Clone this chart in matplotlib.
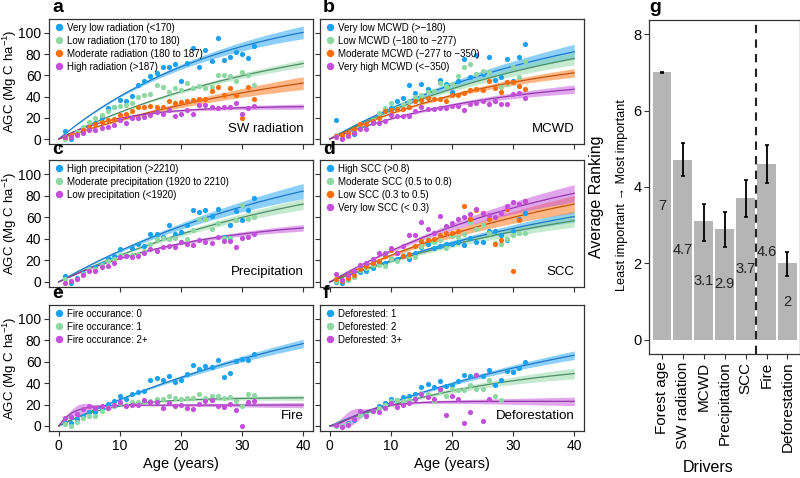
import numpy as np
import matplotlib
matplotlib.use("Agg")
import matplotlib.pyplot as plt
from matplotlib.lines import Line2D

plt.rcParams['font.family'] = ['Liberation Sans', 'DejaVu Sans']
plt.rcParams['mathtext.fontset'] = 'custom'
plt.rcParams['mathtext.rm'] = 'Liberation Sans'
plt.rcParams['mathtext.it'] = 'Liberation Sans:italic'
plt.rcParams['mathtext.bf'] = 'Liberation Sans:bold'

# ---- data (AGC per stand age) ----
age = np.arange(1, 33)
nan = np.nan

# a: SW radiation
a_vlow = [7.9, 0, 4.7, 7.5, 11, 15, 20, 29, 30, 37, 36, 40.5, 51, 55, 59, 62.6,
          68, 68, 71, 55, 72, 86, 68, 84, 73, 95, 74, 77, 82, 80, 76, 88]
a_low = [0, 3, 7, 11, 16, 19.5, 22.6, 26, 30.5, 31, 32, 34, 39.6, 41, 42, 51,
         49, 44, 48, 46, 53, 48, 50, 48, 49, 60, 60, 59, 55, 63.5, 60, 51]
a_mod = [2, 4, 5, 8.5, 11.6, 14, 16, 18, 18.5, 22.6, 23.6, 26, 30, 30.5, 31, 30.5,
         30, 36, 34, 35, 36, 37, 38, 38, 45.6, 49, 41.5, 48, 41.5, 20, 49, 37.7]
a_high = [1.5, 2, 3.8, 6, 8.5, 8.5, 10, 11.6, 13, 18, 15.4, 19.5, 19.5, 21, 22.6, 25,
          23.6, 27, 21.7, 24, 27, 24, 32, 32, 30, 29, 30, 30, 33.6, 23.6, 29, 31]

# b: MCWD
b_vlow = [18.3, 1, 4, 5, 10, 13, 16, 21.5, 27, 29, 36, 39, 50.5, 43, 52, 47,
          45, 56, 51.5, 44, 55, 75, 58, 79, 61.6, 77, 56, 58, 75, 55, 77, 89]
b_low = [4, 2.5, 5.7, 7, 13, 14, 18, 24.6, 29, 34, 29, 32.5, 36, 40, 41, 44.5,
         45, 53, 50, 51.5, 59, 68, 70.5, 61.6, 64, 63, 36, 49, 51.5, 68, 58, 73.6]
b_mod = [2.5, 4, 5.7, 9, 14, 14, 17, 20, 26, 27, 28, 28, 30, 35.7, 37, 39,
         38, 38, 36, 41, 41, 43.6, 46, 47, 46, 54.6, 48, 44.5, 54, 54, 50, 47]
b_vhigh = [1.5, 0.3, 2.5, 5.7, 9, 9, 15, 15, 16.7, 23, 21.5, 21.5, 22, 26, 30, 28,
           28, 29.4, 29.4, 31, 31, 27.5, 32.5, 34, 35.7, 33, 36, 33, 33, 42.6, 43.6, 39]

# c: precipitation
c_high = [5.6, -0.6, 4, 8, 12.8, 13.4, 16.5, 21.8, 23.7, 30.5, 24.3, 31, 35, 33, 44, 44.5,
          42, 53, 44, 46.7, 53, 67, 65, 67, 61, 68, 42, 52.6, 66, 57.6, 67, 78]
c_mod = [3, 1, 2.5, 7, 12, 12, 15.6, 19.6, 21, 25, 25, 25, 26, 29, 35, 40,
         41, 40, 40.5, 37, 39.5, 48, 58.6, 58, 49, 55, 40.5, 41, 57.6, 71, 58.6, 60]
c_low = [-0.6, 1, 2.5, 6, 10, 10, 13.4, 15, 17.4, 22.7, 24, 22.7, 23.7, 26.8, 30.5, 29,
         32, 33.6, 32, 36.7, 35, 34, 39, 37.4, 36, 41.4, 38, 38, 32, 40.5, 42, 44.6]

# d: SCC
d_high = [0, -1, 2, 4.4, 9, 10, 13, 18, 18, 21, 21.6, 24, 21, 27, 32.6, 35,
          31, 33.5, 35, 35, 36.7, 34, 40.4, 36.7, 36.7, 47.6, 47.6, 43.6, 39, 47.6, 58.6, 64]
d_mod = [0.6, 1, 2, 5, 11, 13, 16, 16, 15, 21.6, 19.4, 25, 24, 23.5, 33, 40,
         37, 39, 31, 43, 42, 44, 55.5, 48.6, 53, 45.5, 36, 35, 40, 43.6, 45, 45.5]
d_low = [3, 0.6, 3.8, 6, 11.6, 14.7, 18, 19.4, 24, 30, 26.6, 24, 25.7, 33, 38, 39,
         40, 43.6, 45.5, 45.5, 47.6, 70.5, 58.6, 67, 64, 58.6, 35, 39, 68, 10, 57.3, 75]
d_vlow = [7.8, 2, 6, 10, 15.4, 18, 21.6, 26.6, 27, 31, 27, 33, 43.6, 43.6, 56, 48.6,
          45, 61.4, 52, 55, 58, 60, 63, 67.4, 64, 62, 60, 64, 70, 73.7, 72, 75]

# e: fire
e_0 = [3.8, 3, 6.3, 9.4, 12.6, 12.6, 15.7, 20.4, 23.6, 27.7, 25, 30, 31.4, 33, 42.5, 45,
       43, 47, 41.5, 43.4, 48.7, 56.6, 53.5, 56, 55, 61.3, 46, 49.7, 60.4, 63, 61.3, 67.6]
e_1 = [1.6, 0, 3.8, 7, 9.4, 9.4, 14, 17, 19, 21.4, 19.5, 22, 22, 23.6, 23.6, 25,
       25, 27.7, 25.8, 25, 25.8, 25.8, 30, 25.8, 28, 28, 25.8, 26.7, 23.6, 19, 30, 29]
e_2 = [7, 8, 11, 15.7, 19, 17, 19, 17, 19.5, 22.6, 19, 19.5, 19.5, 24.5, 22, 22,
       17, 21.4, 19, 19.5, 17, 15.7, 20.4, 23.6, 24.5, 19, 18, 20.4, 14.8, 0, 22.6, 23.6]

# f: deforestation
f_1 = [1, 0, 2.5, 5.7, 10.4, 10.4, 14, 18.4, 21.5, 25, 24.7, 27, 28, 29.4, 36.7, 39.6,
       36.7, 42, 37.3, 38, 42, 47.5, 46.8, 47.5, 46.8, 52, 38, 42.7, 51.6, 50, 53.8, 59.5]
f_2 = [0, 0, 2, 6.3, 10.4, 10.4, 13.6, 16.8, 20, 23, 24.7, 23, 24.7, 26, 30.4, 29.4,
       23, 32.6, 27.8, 34.8, 34, 34, 38, 34.8, 34.8, 42.7, 27.8, 24, nan, nan, nan, nan]
f_3 = [1, -0.6, 1, 6.3, 13.6, 9.5, 13.6, 12.7, 16.8, 21, 17.4, 20, 21.5, 25.3, 29.4, 27,
       25.6, 34.8, 10.4, 27.8, 25.3, 3.2, 12.7, 47.5, 5, 25.6, nan, nan, nan, nan, nan, nan]

# fitted growth curves: asymptote, rate, shape, band half-width at 40 y, early band bump
fit_a = [(130, .037, 1, 6, 0), (110, .026, 1, 3.5, 0), (90, .022, 1, 6, 0), (31, .10, 1, 2.5, 0)]
fit_b = [(130, .025, 1, 7, 0), (120, .025, 1, 6, 0), (85, .033, 1, 4, 0), (60, .038, 1, 4, 0)]
fit_c = [(140, .023, 1, 7, 0), (120, .023, 1, 5, 0), (60, .045, 1, 3, 0)]
fit_d = [(110, .020, 1, 5, 0), (100, .021, 1, 6, 0), (120, .023, 1, 8, 0), (130, .025, 1, 8, 0)]
fit_e = [(150, .018, 1, 4, 0), (26.5, .12, 1, 2.5, 0), (19.5, .45, 1, 2.5, 5)]
fit_f = [(120, .020, 1, 4, 0), (65, .035, 1, 5, 0), (23, .25, 2, 4, 7)]

# g: driver ranking
drivers = ['Forest age', 'SW radiation', 'MCWD', 'Precipitation', 'SCC', 'Fire', 'Deforestation']
rank_mean = [7, 4.7, 3.1, 2.9, 3.7, 4.6, 2.0]
rank_lo = [6.98, 4.3, 2.6, 2.44, 3.22, 4.1, 1.67]
rank_hi = [7.02, 5.15, 3.55, 3.35, 4.18, 5.1, 2.3]

# ---- styling ----
pt_col = {'blue': '#1BA1F2', 'green': '#8FD7A3', 'orange': '#FF6D0A', 'purple': '#C34FDB'}
ln_col = {'blue': '#1E78C8', 'green': '#4F8D66', 'orange': '#C0560F', 'purple': '#9536AE'}

panels = [
    ('a', 'SW radiation', [a_vlow, a_low, a_mod, a_high],
     ['Very low radiation (<170)', 'Low radiation (170 to 180)',
      'Moderate radiation (180 to 187)', 'High radiation (>187)'],
     ['blue', 'green', 'orange', 'purple'], fit_a),
    ('b', 'MCWD', [b_vlow, b_low, b_mod, b_vhigh],
     ['Very low MCWD (>\u2212180)', 'Low MCWD (\u2212180 to \u2212277)',
      'Moderate MCWD (\u2212277 to \u2212350)', 'Very high MCWD (<\u2212350)'],
     ['blue', 'green', 'orange', 'purple'], fit_b),
    ('c', 'Precipitation', [c_high, c_mod, c_low],
     ['High precipitation (>2210)', 'Moderate precipitation (1920 to 2210)',
      'Low precipitation (<1920)'],
     ['blue', 'green', 'purple'], fit_c),
    ('d', 'SCC', [d_high, d_mod, d_low, d_vlow],
     ['High SCC (>0.8)', 'Moderate SCC (0.5 to 0.8)', 'Low SCC (0.3 to 0.5)',
      'Very low SCC (< 0.3)'],
     ['blue', 'green', 'orange', 'purple'], fit_d),
    ('e', 'Fire', [e_0, e_1, e_2],
     ['Fire occurance: 0', 'Fire occurance: 1', 'Fire occurance: 2+'],
     ['blue', 'green', 'purple'], fit_e),
    ('f', 'Deforestation', [f_1, f_2, f_3],
     ['Deforested: 1', 'Deforested: 2', 'Deforested: 3+'],
     ['blue', 'green', 'purple'], fit_f),
]

W, H = 800, 478
fig = plt.figure(figsize=(W / 100, H / 100), dpi=100)

lefts = [49, 320]
tops = [19, 160, 305]
bottoms = [144, 287, 431]
t = np.linspace(0, 40, 300)

for i, (letter, name, series, labels, cols, fits) in enumerate(panels):
    row, colno = divmod(i, 2)
    l, r = lefts[colno], lefts[colno] + 264
    tp, bt = tops[row], bottoms[row]
    ax = fig.add_axes([l / W, 1 - bt / H, (r - l) / W, (bt - tp) / H])

    for c, (A, k, p, w, bump) in zip(cols, fits):
        y = A * (1 - np.exp(-k * t)) ** p
        hw = w * (t / 40) ** 1.3 + bump * np.exp(-((t - 3.5) / 2.2) ** 2)
        ax.fill_between(t, y - hw, y + hw, color=pt_col[c], alpha=0.5, lw=0)
        ax.plot(t, y, color=ln_col[c], lw=0.9)
    for vals, c in zip(series, cols):
        ax.scatter(age, vals, s=14, color=pt_col[c], lw=0, zorder=3)

    handles = [Line2D([], [], marker='o', ls='', color=pt_col[c], markersize=4.3) for c in cols]
    ax.legend(handles, labels, loc='upper left', frameon=False, fontsize=7,
              handletextpad=0.2, labelspacing=0.3, borderaxespad=0.1,
              handlelength=1.3, borderpad=0.3)
    ax.text(0.965, 0.12, name, transform=ax.transAxes, ha='right', va='center', fontsize=9.5)

    ax.set_xlim(-1.6, 41.6)
    ax.set_ylim(-4.7, 113)
    ax.set_xticks([0, 10, 20, 30, 40])
    ax.set_yticks([0, 20, 40, 60, 80, 100])
    for s in ax.spines.values():
        s.set_color('#333333')
        s.set_linewidth(0.9)
    ax.tick_params(direction='out', length=3.5, width=0.8, color='#333333',
                   labelsize=10, pad=2)
    if row < 2:
        ax.tick_params(labelbottom=False)
    else:
        ax.set_xlabel('Age (years)', fontsize=10.5, labelpad=3)
    if colno == 1:
        ax.tick_params(labelleft=False)
    else:
        ax.set_ylabel('AGC (Mg C ha$^{-1}$)', fontsize=9.5, va='center')
        ax.yaxis.set_label_coords((9.5 - l) / (r - l), 0.5)

    fig.text((l + 3) / W, 1 - (tp - 11) / H, letter, fontsize=14, fontweight='bold',
             ha='left', va='center')

# ---- panel g ----
gl, gr, gt, gb = 649, 800, 20, 354
axg = fig.add_axes([gl / W, 1 - gb / H, (gr - gl) / W, (gb - gt) / H])
xpos = np.arange(len(drivers))
mean = np.array(rank_mean)
axg.bar(xpos, mean, width=0.9, color='#B5B5B5', zorder=1)
axg.errorbar(xpos, mean, yerr=[mean - np.array(rank_lo), np.array(rank_hi) - mean],
             fmt='none', ecolor='black', elinewidth=1.3, capsize=1.6, capthick=1.2, zorder=3)
for x, v in zip(xpos, rank_mean):
    axg.text(x, v / 2, f'{v:g}', ha='center', va='center', fontsize=10.5, color='#222222')
axg.axvline(4.5, color='#222222', ls=(0, (4, 3)), lw=1.5, zorder=4)
axg.set_xlim(-0.62, 6.6)
axg.set_ylim(-0.37, 8.37)
axg.set_yticks([0, 2, 4, 6, 8])
axg.set_xticks(xpos)
axg.set_xticklabels(drivers, rotation=90, fontsize=11)
for s in axg.spines.values():
    s.set_color('#333333')
    s.set_linewidth(0.9)
axg.tick_params(direction='out', length=3.5, width=0.8, color='#333333', labelsize=10.5, pad=2)
axg.tick_params(axis='x', labelsize=11)
axg.set_xlabel('Drivers', fontsize=11.5, va='center')
axg.xaxis.set_label_coords(0.39, -(467 - gb) / (gb - gt))
axg.text((597 - gl) / (gr - gl), (gb - 197) / (gb - gt), 'Average Ranking',
         transform=axg.transAxes, rotation=90, ha='center', va='center', fontsize=11.5)
axg.text((622 - gl) / (gr - gl), (gb - 195) / (gb - gt), 'Least important \u2192 Most important',
         transform=axg.transAxes, rotation=90, ha='center', va='center', fontsize=9.2)
fig.text(gl / W, 1 - 7 / H, 'g', fontsize=14, fontweight='bold', ha='left', va='center')

fig.savefig('out.png', dpi=100)
